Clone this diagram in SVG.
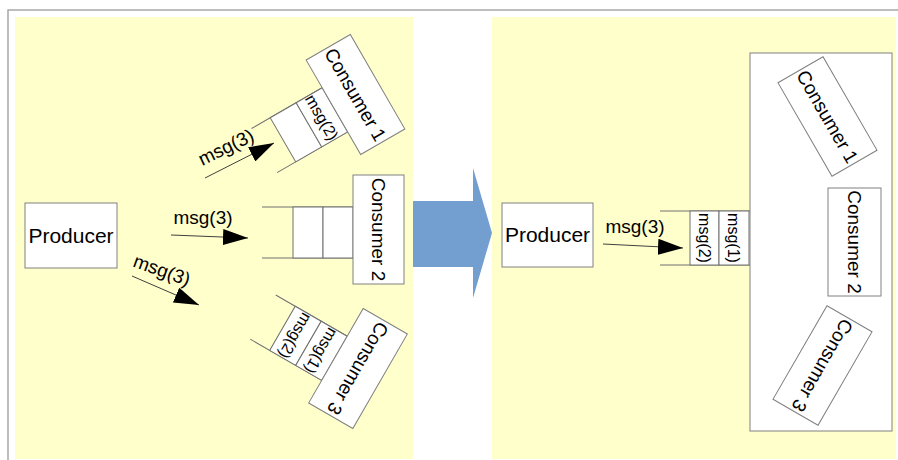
<svg xmlns="http://www.w3.org/2000/svg" width="898" height="460" viewBox="0 0 898 460">
<style>
.panel{fill:#ffffcc;stroke:none}
.box{fill:#ffffff;stroke:#808080;stroke-width:1}
.q{stroke:#707070;stroke-width:1;fill:none}
.cell{fill:#ffffff;stroke:#707070;stroke-width:1}
.t{font-family:"Liberation Sans",Arial,sans-serif;fill:#000}
.big{font-size:21px}
.cons{font-size:19px}
.msg{font-size:19px}
.cm{font-size:16px}
.conn{stroke:#404040;stroke-width:1;fill:none;marker-end:url(#ah)}
</style>
<defs>
<marker id="ah" markerUnits="userSpaceOnUse" markerWidth="26" markerHeight="16" refX="25" refY="8" orient="auto">
<path d="M0,0 L25,8 L0,16 z" fill="#000"/>
</marker>
</defs>
<rect width="898" height="460" fill="#ffffff"/>
<path d="M8,460 V10 H898" fill="none" stroke="#a8a8a8" stroke-width="1.5"/>
<rect class="panel" x="15" y="17" width="398" height="442"/>
<rect class="panel" x="492" y="17" width="404" height="442"/>
<polygon id="bigArrow" points="413,201 473,201 473,168 492,233 473,298 473,267 413,267" fill="#729fcf"/>

<g id="connectors">
<line class="conn" x1="205" y1="178" x2="274" y2="143"/>
<line class="conn" x1="171" y1="235" x2="248" y2="238"/>
<line class="conn" x1="132" y1="276" x2="199" y2="305"/>
<line class="conn" x1="603" y1="244" x2="683" y2="248"/>
<text class="t msg" transform="translate(226,147) rotate(-26)" text-anchor="middle" dy=".35em">msg(3)</text>
<text class="t msg" x="203" y="224" text-anchor="middle">msg(3)</text>
<text class="t msg" transform="translate(162,270) rotate(20)" text-anchor="middle" dy=".35em">msg(3)</text>
<text class="t msg" x="635" y="233" text-anchor="middle">msg(3)</text>
</g>

<g id="producerLeft">
<rect class="box" x="25" y="203" width="92" height="65"/>
<text class="t big" x="71" y="243" text-anchor="middle">Producer</text>
</g>

<g id="consumer1Left" transform="translate(355.5,94.5) rotate(-30)">
<path class="q" d="M-107,-22.5 H-25.5 M-107,28.5 H-25.5"/>
<rect class="cell" x="-85.5" y="-22.5" width="30" height="51"/>
<rect class="cell" x="-55.5" y="-22.5" width="30" height="51"/>
<text class="t cm" transform="translate(-40.5,3) rotate(90)" text-anchor="middle" dy=".35em">msg(2)</text>
<rect class="box" x="-25.5" y="-54.5" width="51" height="109"/>
<text class="t cons" transform="rotate(90)" text-anchor="middle" dy=".35em">Consumer 1</text>
</g>

<g id="consumer2Left" transform="translate(378.5,229.5)">
<path class="q" d="M-116.5,-22.5 H-25.5 M-116.5,28.5 H-25.5"/>
<rect class="cell" x="-85.5" y="-22.5" width="30" height="51"/>
<rect class="cell" x="-55.5" y="-22.5" width="30" height="51"/>
<rect class="box" x="-25.5" y="-54.5" width="51" height="109"/>
<text class="t cons" transform="rotate(90)" text-anchor="middle" dy=".35em">Consumer 2</text>
</g>

<g id="consumer3Left" transform="translate(358,368.5) rotate(30)">
<path class="q" d="M-108,-22.5 H-25.5 M-108,28.5 H-25.5"/>
<rect class="cell" x="-85.5" y="-22.5" width="30" height="51"/>
<rect class="cell" x="-55.5" y="-22.5" width="30" height="51"/>
<text class="t cm" transform="translate(-70.5,3) rotate(90)" text-anchor="middle" dy=".35em">msg(2)</text>
<text class="t cm" transform="translate(-40.5,3) rotate(90)" text-anchor="middle" dy=".35em">msg(1)</text>
<rect class="box" x="-25.5" y="-54.5" width="51" height="109"/>
<text class="t cons" transform="rotate(90)" text-anchor="middle" dy=".35em">Consumer 3</text>
</g>

<g id="producerRight">
<rect class="box" x="502" y="203" width="91" height="64"/>
<text class="t big" x="547.5" y="242" text-anchor="middle">Producer</text>
</g>

<g id="queueRight">
<path class="q" d="M660,211 H750 M660,265 H750"/>
<rect class="cell" x="690" y="211" width="29" height="54"/>
<rect class="cell" x="719" y="211" width="30" height="54"/>
<text class="t cm" transform="translate(704.5,238) rotate(90)" text-anchor="middle" dy=".35em">msg(2)</text>
<text class="t cm" transform="translate(734,238) rotate(90)" text-anchor="middle" dy=".35em">msg(1)</text>
</g>

<g id="consumerGroupRight">
<rect class="box" x="750" y="53" width="142" height="378"/>
</g>

<g id="consumer1Right" transform="translate(827.5,116.5) rotate(-30)">
<rect class="box" x="-26" y="-54" width="52" height="108"/>
<text class="t cons" transform="rotate(90)" text-anchor="middle" dy=".35em">Consumer 1</text>
</g>

<g id="consumer2Right" transform="translate(854.5,242)">
<rect class="box" x="-26.5" y="-54" width="53" height="108"/>
<text class="t cons" transform="rotate(90)" text-anchor="middle" dy=".35em">Consumer 2</text>
</g>

<g id="consumer3Right" transform="translate(822.5,365.5) rotate(30)">
<rect class="box" x="-26" y="-54" width="52" height="108"/>
<text class="t cons" transform="rotate(90)" text-anchor="middle" dy=".35em">Consumer 3</text>
</g>
</svg>
